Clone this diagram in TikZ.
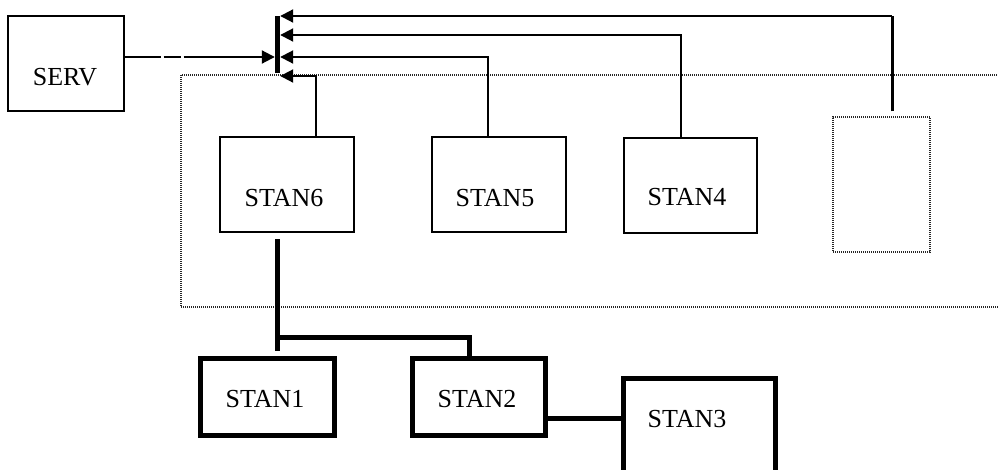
\documentclass[tikz,border=0pt]{standalone}
\usepackage{fontspec}
\setmainfont{Liberation Serif}
\usetikzlibrary{arrows.meta,calc}
\tikzset{
  box/.style={draw, line width=2pt, inner sep=0pt, minimum width=#1},
  thickbox/.style={draw, line width=5pt, inner sep=0pt},
  lbl/.style={inner sep=0pt, font=\fontsize{26}{30}\selectfont},
  arr/.style={line width=2pt, -{Triangle[length=13pt,width=13pt]}},
  fat/.style={line width=5pt},
  dotbox/.style={draw=black!85, line width=1.2pt, dash pattern=on 1pt off 1pt},
}
\begin{document}
\begin{tikzpicture}[x=1pt,y=-1pt]
\path[use as bounding box, clip] (0,0) rectangle (998,469);
% dotted frames
\draw[dotbox] (181,75) rectangle (1010,307);
\node[dotbox, inner sep=0pt, minimum width=97pt, minimum height=135pt] (dbox) at (881.5,184.5) {};
% boxes
\node[box=115.4pt, minimum height=95pt] (serv) at (66,63.5) {};
\node[box=134pt, minimum height=95pt] (s6) at (286.5,184) {};
\node[box=134pt, minimum height=95pt] (s5) at (498.5,184) {};
\node[box=133pt, minimum height=95pt] (s4) at (690,185) {};
\node[thickbox, minimum width=134pt, minimum height=77pt] (s1) at (267.5,397) {};
\node[thickbox, minimum width=133.5pt, minimum height=77pt] (s2) at (478.75,397) {};
\node[thickbox, minimum width=152.5pt, minimum height=140pt] (s3) at (699.25,448) {};
% labels
\node[lbl] (tserv) at (65,77) {SERV};
\node[lbl] (t6) at (284,198) {STAN6};
\node[lbl] (t5) at (495,198) {STAN5};
\node[lbl] (t4) at (687,197) {STAN4};
\node[lbl] (t1) at (265,399) {STAN1};
\node[lbl] (t2) at (477,399) {STAN2};
\node[lbl] (t3) at (687,419) {STAN3};
% bar
\node[fill, inner sep=0pt, minimum width=5pt, minimum height=57pt] (bar) at (277.5,44.5) {};
% arrows into bar
\draw[line width=3pt] ([shift={(10.5pt,5pt)}]dbox.north) -- (892,16);
\draw[line width=2.5pt] (892,16) -- (835,16);
\draw[arr] (892,16) -- (bar.east |- 0,16);
\draw[arr] ([xshift=-9pt]s4.north) |- (bar.east |- 0,35);
\draw[arr] ([xshift=-10.5pt]s5.north) |- (bar.east |- 0,57);
\draw[arr] ([xshift=29.5pt]s6.north) |- (bar.east |- 0,76);
\draw[line width=2pt, dash pattern=on 36pt off 3pt on 17pt off 3pt on 300pt, -{Triangle[length=13pt,width=13pt]}]
  ([yshift=6.5pt]serv.east) -- (bar.west |- 0,57);
% thick connectors
\coordinate (j) at (277,337);
\draw[fat] ([shift={(-9.5pt,-6.5pt)}]s6.south) -- ([shift={(9.5pt,5.5pt)}]s1.north);
\draw[fat] (j) -| ([xshift=-9.25pt]s2.north);
\draw[fat] ([yshift=-21pt]s2.east) -- (s3.west |- 0,418);
\end{tikzpicture}
\end{document}
